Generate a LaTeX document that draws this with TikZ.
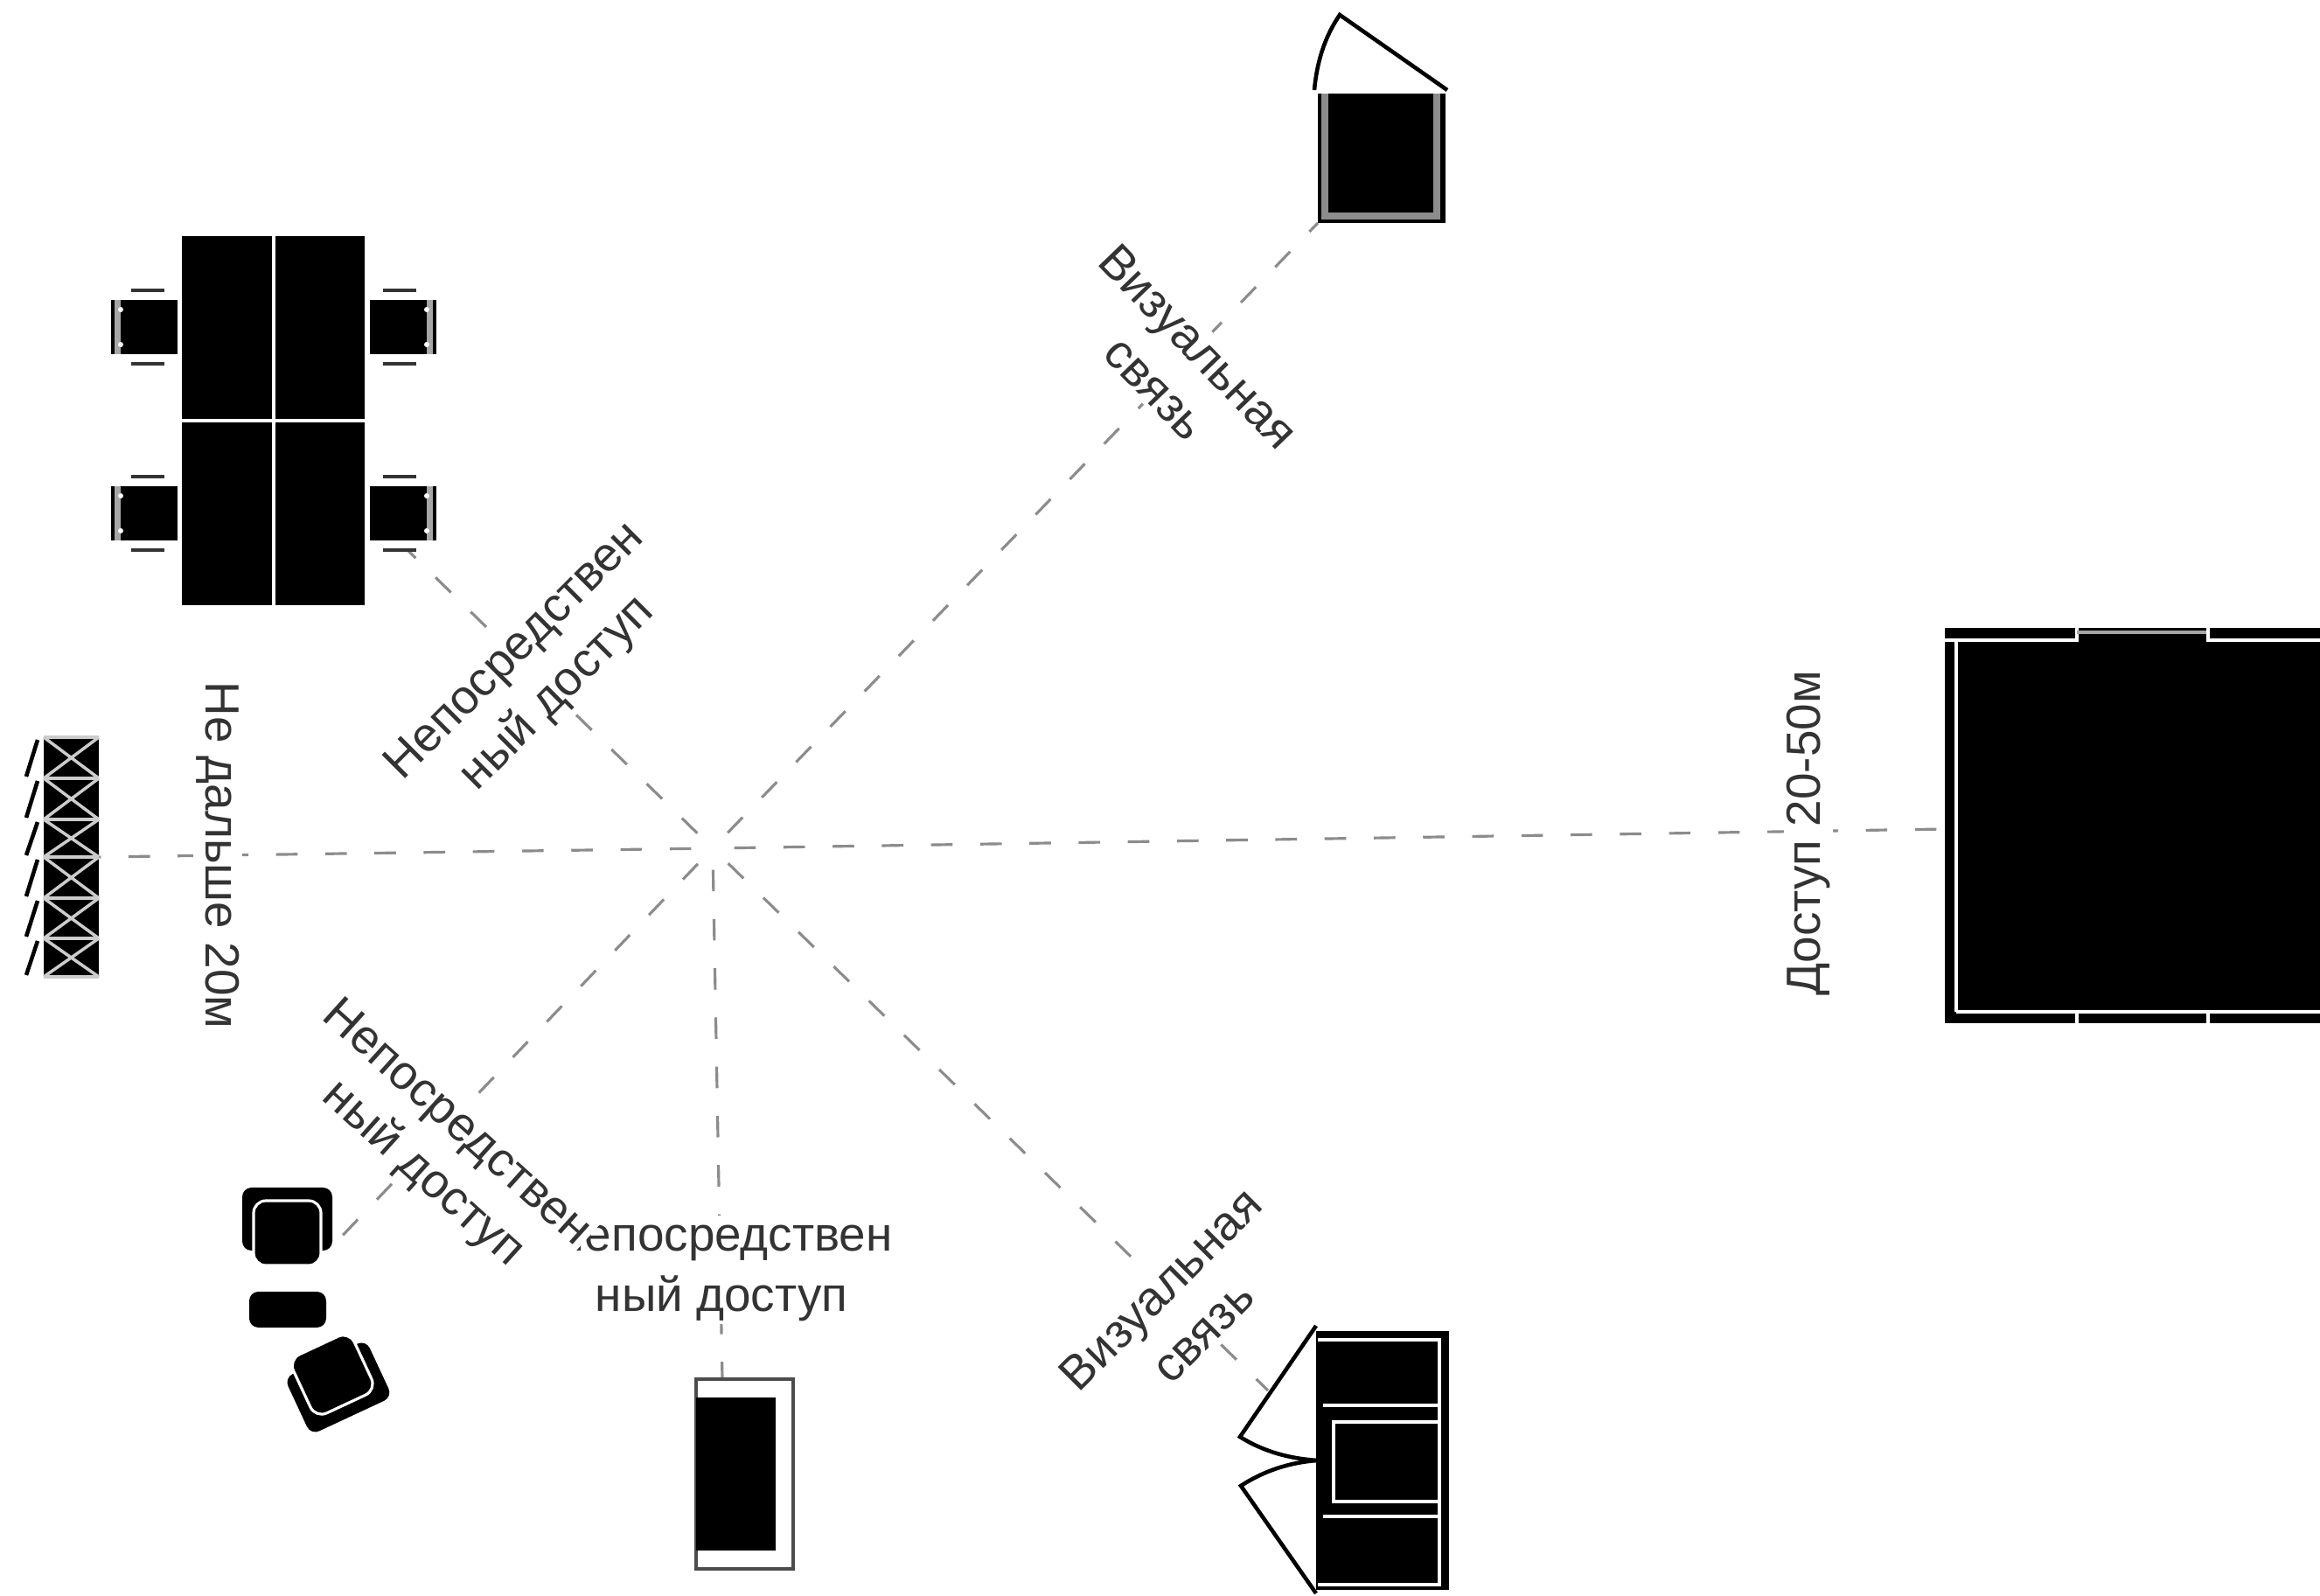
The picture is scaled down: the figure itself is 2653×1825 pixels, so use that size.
\documentclass[tikz,border=0pt]{standalone}
\usepackage{fontspec}
\setmainfont{Liberation Sans}
\tikzset{
    link/.style={draw=black!45,line width=0.9pt,dash pattern=on 7pt off 9pt,shorten <=7pt},
    label/.style={fill=white,text=black!80,align=center,inner sep=1pt,font=\fontsize{15.6}{19.5}\selectfont},
    wall/.style={draw=black,line width=1.3pt},
    gap/.style={draw=white,line width=1pt}
}
\begin{document}
\begin{tikzpicture}[x=0.01cm,y=-0.01cm]
        \useasboundingbox (0,0) rectangle (2653,1825);
        \coordinate (O) at (815,970);
        \coordinate (top) at (1507,255);
        \coordinate (desk) at (465,628);
        \coordinate (rack) at (113,980);
        \coordinate (sofa) at (380,1425);
        \coordinate (bed) at (826,1577);
        \coordinate (wardrobe) at (1450,1590);
        \coordinate (hall) at (2224,948);
        \draw[link] (O) -- (top);
        \draw[link] (O) -- (desk);
        \draw[link] (O) -- (rack);
        \draw[link] (O) -- (sofa);
        \draw[link] (O) -- (bed);
        \draw[link] (O) -- (wardrobe);
        \draw[link] (O) -- (hall);
        % labels
        \node[label] (t1) at (825,1452) {Непосредствен\\ный доступ};
        \node[label,rotate=-42] (t2) at (498,1311) {Непосредствен\\\hspace{6pt}ный доступ};
        \node[label,rotate=-46] (t3) at (1346,420) {Визуальная\\связь};
        \node[label,rotate=45] (t4) at (614,770) {Непосредствен\\ный доступ};
        \node[label,rotate=-90] (t5) at (249,978) {Не дальше 20м};
        \node[label,rotate=90] (t6) at (2068,953) {Доступ 20-50м};
        \node[label,rotate=45] (t7) at (1351,1498) {Визуальная\\связь};
        % desk
        \fill (208,270) rectangle (417,692);
        \draw[gap] (313,270) -- (313,692);
        \draw[gap] (208,481) -- (417,481);
        \foreach \cy in {374,587}{
            \foreach \side in {-1,1}{
                \begin{scope}[shift={(313,\cy)},xscale=\side]
                    \fill[black!35] (175,-31) rectangle (184,31);
                    \fill (110,-31) rectangle (175,31);
                    \draw[line width=1pt] (184,-31) -- (184,31);
                    \fill[white] (175,-20) circle (3) (175,20) circle (3);
                    \draw[line width=1.2pt,black!80] (125,-42) -- (163,-42);
                    \draw[line width=1.2pt,black!80] (125,42) -- (163,42);
                \end{scope}
            }
        }
        % cabinet with door, top
        \fill (1507,107) rectangle (1653,255);
        \draw[draw=black!45,line width=2pt] (1515,107) -- (1515,247) -- (1643,247) -- (1643,107);
        \draw[wall] (1503,103) .. controls (1506,70) and (1515,42) .. (1532,17) -- (1655,103);
        % rack
        \fill (50,845) rectangle (113,1117);
        \foreach \ya/\yb in {843/890,890/937,937/980,980/1027,1027/1073,1073/1117}{
            \draw[draw=black!20,line width=1pt] (50,\ya) -- (113,\yb) (50,\yb) -- (113,\ya) (50,\ya) -- (113,\ya);
            \draw[line width=1.3pt] (30,\yb-2) -- (43,\ya+3);
        }
        \draw[draw=black!20,line width=1pt] (50,1117) -- (113,1117);
        % sofa group
        \foreach \cx/\cy/\ang in {328/1402/0,384/1579/205}{
            \begin{scope}[shift={(\cx,\cy)},rotate=\ang]
                \fill[rounded corners=3] (-51,-44) rectangle (52,28);
                \filldraw[draw=white,line width=0.9pt,rounded corners=4] (-38,-29) rectangle (39,45);
            \end{scope}
        }
        \fill[rounded corners=3] (285,1477) rectangle (373,1518);
        % bed
        \draw[draw=black!70,line width=1.1pt] (796,1577) rectangle (907,1794);
        \fill (796,1598) rectangle (887,1773);
        % wardrobe
        \fill (1505,1522) rectangle (1657,1818);
        \draw[gap] (1507,1532) -- (1646,1532) -- (1646,1812) -- (1507,1812);
        \draw[gap] (1513,1607) -- (1646,1607);
        \draw[gap] (1513,1734) -- (1646,1734);
        \draw[gap] (1646,1626) -- (1525,1626) -- (1525,1717) -- (1646,1717);
        \draw[wall] (1505,1516) -- (1418,1643) .. controls (1445,1660) and (1475,1668) .. (1507,1670);
        \draw[wall] (1507,1670) .. controls (1475,1672) and (1445,1682) .. (1419,1699) -- (1505,1822);
        % hall
        \fill (2224,718) rectangle (2653,1170);
        \draw[gap] (2237,732) -- (2237,1157);
        \draw[gap] (2224,732) -- (2375,732) -- (2375,716);
        \draw[draw=black!35,line width=1pt] (2375,723) -- (2525,723);
        \draw[gap] (2525,716) -- (2525,732) -- (2653,732);
        \draw[gap] (2237,1157) -- (2653,1157);
        \draw[gap] (2375,1157) -- (2375,1172);
        \draw[gap] (2525,1157) -- (2525,1172);
    \end{tikzpicture}
\end{document}
